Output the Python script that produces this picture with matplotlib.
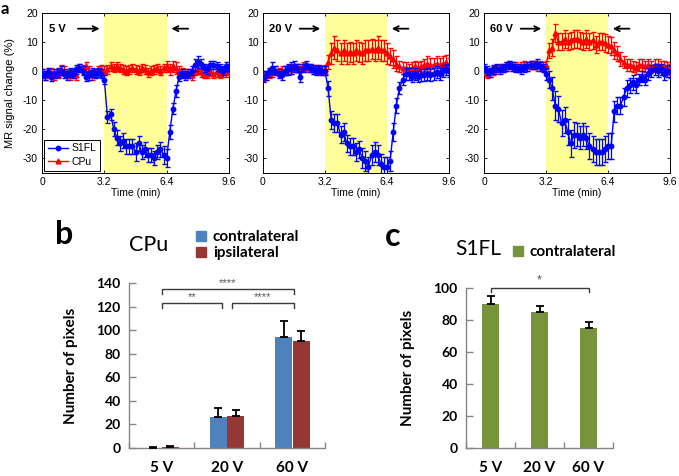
import numpy as np
import matplotlib
matplotlib.use("Agg")
import matplotlib.pyplot as plt
from matplotlib.patches import Patch
from matplotlib.lines import Line2D

# ---------------- data: time courses (panel a) ----------------
TR_MIN = 0.16
N_PTS = 61
time_min = np.arange(N_PTS) * TR_MIN

s1fl_5v = [-1, -1.5, -0.5, -2, -1, -0.5, 0, -1, -1.5, -0.5, -1, 0.5, 1, 0, -2, -1.5, -0.5, -1, -0.5, -1,
           -3, -16, -15, -20, -23, -25, -24, -26, -26, -26, -28, -25, -28, -27, -29, -29, -30, -28, -27, -29,
           -30, -21, -13, -7, -2, -1, -1.5, -1, 0, 2, 3, 2.5, 1, 0.5, 2, 2, 1.5, 1, 0, 1.5, 1]
s1fl_5v_err = [1.5, 1.5, 1.5, 1.5, 1.5, 1.5, 1.5, 1.5, 1.5, 1.5, 1.5, 1.5, 1.5, 1.5, 1.5, 1.5, 1.5, 1.5, 1.5, 1.5,
               1.5, 2, 2, 2.5, 2.5, 2.5, 2.5, 2.5, 2.5, 2.5, 3, 2.5, 2.5, 2.5, 2.5, 2.5, 2.5, 2.5, 2.5, 3,
               3, 2.5, 2, 2, 1.5, 1.5, 1.5, 1.5, 1.5, 2, 2, 1.5, 1.5, 1.5, 1.5, 1.5, 1.5, 1.5, 1.5, 1.5, 1.5]
cpu_5v = [-1, -1.5, -1, -0.5, -1.5, -1, 0.5, 0, -1, -1.5, -1, -1.5, 1, 0.5, 1.5, 0, -1.5, -1, 0, 0.5,
          0, 0.5, 1.5, 1, 1.5, 1, 0.5, 0, 0.5, 1, 0.5, 0, 1, 0.5, -0.5, 0, 0.5, 1, 0, 1,
          1.5, 0.5, 1.5, 1, 0, -0.5, -1, -1, -1.5, 0, 0.5, -0.5, -1, -1, 0, -1, -0.5, -1, -0.5, -0.5, 0]
cpu_5v_err = [1.5, 1.5, 1.5, 1.5, 1.5, 1.5, 1.5, 1.5, 1.5, 1.5, 1.5, 1.5, 1.5, 1.5, 1.5, 1.5, 1.5, 1.5, 1.5, 1.5,
              1.5, 1.5, 1.5, 1.5, 1.5, 1.5, 1.5, 1.5, 1.5, 1.5, 1.5, 1.5, 1.5, 1.5, 1.5, 1.5, 1.5, 1.5, 1.5, 1.5,
              2, 2, 2, 2, 1.5, 1.5, 1.5, 1.5, 1.5, 1.5, 1.5, 1.5, 1.5, 1.5, 1.5, 1.5, 1.5, 1.5, 1.5, 1.5, 1.5]

s1fl_20v = [-2, -1.5, -0.5, 1, 0, -1, -1.5, 0, 0.5, 1, 1.5, 1, -2, 1, 2, 1, 0.5, 0, 0.5, 0,
            0, -6, -17, -18, -18, -22, -21, -25, -26, -26, -28, -27, -30, -31, -33, -29, -28, -29, -32, -33,
            -33, -31, -21, -12, -6, -3, -1, -1, -2, -1, -2, -1.5, -1.5, -1, -1.5, -1, -0.5, -1, 0, 0.5, 0]
s1fl_20v_err = [2, 1.5, 1.5, 2, 1.5, 1.5, 1.5, 1.5, 2, 2, 2, 1.5, 2, 1.5, 1.5, 1.5, 1.5, 1.5, 1.5, 1.5,
                1.5, 2.5, 3, 3, 3, 3, 3, 3, 3, 3, 3, 3, 3.5, 3.5, 3.5, 3.5, 3.5, 3.5, 3.5, 3.5,
                3.5, 3.5, 3, 2.5, 2, 2, 2, 2, 2, 2, 2, 2, 2, 2, 2, 2, 2, 2, 2, 2, 2]
cpu_20v = [-2, -1.5, -1, -0.5, 0, -0.5, 0, 0, 0.5, 0.5, 1, 1, 1, 1.5, 1, 1, 0.5, 0.5, 0, 0,
           0.5, 3, 6, 8, 7, 6, 7, 6, 6.5, 6, 7, 6.5, 6, 7, 7, 7.5, 7, 8, 7, 7,
           6, 5, 4, 2.5, 1.5, 1, 1, 0.5, 1, 1.5, 1, 1.5, 2, 2.5, 2, 2, 2.5, 2, 2.5, 3, 2]
cpu_20v_err = [1.5, 1.5, 1.5, 1.5, 1.5, 1.5, 1.5, 1.5, 1.5, 1.5, 1.5, 1.5, 1.5, 1.5, 1.5, 1.5, 1.5, 1.5, 1.5, 1.5,
               1.5, 2.5, 3.5, 4, 3.5, 3.5, 3.5, 3.5, 3.5, 3.5, 3.5, 3.5, 3.5, 3.5, 3.5, 3.5, 3.5, 4, 3.5, 3.5,
               3.5, 3, 3, 2.5, 2, 2, 2, 2, 2, 2, 2, 2, 2, 2.5, 2.5, 2.5, 2.5, 2.5, 2.5, 2.5, 2.5]

s1fl_60v = [1, 0, -0.5, 0.5, 1, 0.5, 1, 1.5, 2, 1.5, 1, 1, 0.5, 1, 1.5, 2, 2, 2.5, 1.5, 1,
            -1, -3, -6, -12, -13, -18, -17, -21, -25, -22, -22, -23, -22, -23, -26, -27, -28, -28, -28, -27,
            -26, -26, -14, -12, -12, -9, -6, -5, -4, -5, -3, -2, -3, -1, 0, 0.5, 0, 0.5, -1, 0, -0.5]
s1fl_60v_err = [1.5, 1.5, 1.5, 1.5, 1.5, 1.5, 1.5, 1.5, 1.5, 1.5, 1.5, 1.5, 1.5, 1.5, 1.5, 1.5, 1.5, 1.5, 1.5, 1.5,
                2, 3, 4, 5, 4.5, 4.5, 4.5, 4.5, 4.5, 4.5, 4, 4, 4, 4, 4.5, 4.5, 4.5, 4.5, 4.5, 4.5,
                4.5, 4.5, 3.5, 3, 3, 3, 3, 2.5, 2.5, 2.5, 2, 2, 2, 2, 2, 2, 2, 2, 2, 2, 2]
cpu_60v = [0, -1, -0.5, 0, 0.5, 1, 1, 1.5, 2, 1.5, 1.5, 1, 1.5, 2, 1.5, 2, 2, 1.5, 2, 1.5,
           2, 7, 8, 13, 10, 10, 11, 10, 10.5, 11, 11, 10.5, 10, 11, 10, 10.5, 9, 10, 10, 9.5,
           9, 8.5, 7, 6, 4, 3, 2, 2, 1.5, 1, 2, 2, 1.5, 2, 1.5, 2, 2, 1.5, 1.5, 1, 0.5]
cpu_60v_err = [1.5, 1.5, 1.5, 1.5, 1.5, 1.5, 1.5, 1.5, 1.5, 1.5, 1.5, 1.5, 1.5, 1.5, 1.5, 1.5, 1.5, 1.5, 1.5, 1.5,
               1.5, 2.5, 3, 3, 3, 3, 3, 3, 3, 3, 3, 3, 3, 3, 3, 3, 3, 3, 3, 3,
               3, 3, 3, 2.5, 2.5, 2, 2, 2, 2, 2, 2, 2, 2, 2, 2, 2, 2, 2, 2, 2, 2]

panel_labels = ["5 V", "20 V", "60 V"]
stim_on, stim_off = 3.2, 6.4
time_ticks = [0, 3.2, 6.4, 9.6]
signal_ticks = [-30, -20, -10, 0, 10, 20]

# ---------------- data: bar charts (panels b, c) ----------------
voltages = ["5 V", "20 V", "60 V"]
cpu_contra = [0.3, 26, 94]
cpu_contra_err = [0.3, 8, 14]
cpu_ipsi = [0.8, 27, 91]
cpu_ipsi_err = [0.5, 5, 8]
s1fl_contra = [90, 85, 75]
s1fl_contra_err = [5, 4, 4]

# ---------------- figure ----------------
W, H = 679, 476
fig = plt.figure(figsize=(W / 100, H / 100), dpi=100)

def fbox(x0, y0, x1, y1):
    return [x0 / W, 1 - y1 / H, (x1 - x0) / W, (y1 - y0) / H]

ts_font = ["Liberation Sans", "DejaVu Sans"]
bar_font = ["Lato", "DejaVu Sans"]

ts_sets = [
    (s1fl_5v, s1fl_5v_err, cpu_5v, cpu_5v_err),
    (s1fl_20v, s1fl_20v_err, cpu_20v, cpu_20v_err),
    (s1fl_60v, s1fl_60v_err, cpu_60v, cpu_60v_err),
]
lefts = [(42, 229), (263, 449), (484, 670)]

for i, ((x0, x1), (s, se, c, ce)) in enumerate(zip(lefts, ts_sets)):
    ax = fig.add_axes(fbox(x0, 12.7, x1, 172.5))
    ax.axvspan(stim_on, stim_off, color="#FFFF99", zorder=0, lw=0)
    ax.errorbar(time_min, c, yerr=ce, color="#FF0000", marker="^", ms=3.5,
                lw=1.0, elinewidth=0.9, capsize=1.8, zorder=3)
    ax.errorbar(time_min, s, yerr=se, color="#0000FF", marker="o", ms=3.2,
                lw=1.0, elinewidth=0.9, capsize=1.8, zorder=4)
    ax.set_xlim(0, 9.6)
    ax.set_ylim(-35, 20)
    ax.set_xticks(time_ticks)
    ax.set_xticklabels(["0", "3.2", "6.4", "9.6"])
    ax.set_yticks(signal_ticks)
    ax.set_yticklabels([str(v) for v in signal_ticks])
    ax.tick_params(direction="in", length=2.5, width=0.6, top=True, right=True,
                   labelsize=7.5, pad=3)
    for lab in ax.get_xticklabels() + ax.get_yticklabels():
        lab.set_family(ts_font)
    for sp in ax.spines.values():
        sp.set_linewidth(0.7)
    ax.set_xlabel("Time (min)", fontsize=7.5, family=ts_font, labelpad=1)
    # voltage label and arrows
    tx = 0.35 if i == 0 else 0.3
    ax.text(tx, 14.5, panel_labels[i], fontsize=8, fontweight="bold",
            family=ts_font, ha="left", va="center", zorder=5)
    arrow_start = 1.7 if i == 0 else 1.75
    ax.annotate("", xy=(3.1, 14.5), xytext=(arrow_start, 14.5),
                arrowprops=dict(arrowstyle="->", lw=1.3, color="black",
                                mutation_scale=9), zorder=5)
    ax.annotate("", xy=(6.5, 14.5), xytext=(7.65, 14.5),
                arrowprops=dict(arrowstyle="->", lw=1.3, color="black",
                                mutation_scale=9), zorder=5)
    if i == 0:
        ax.set_ylabel("MR signal change (%)", fontsize=8, family=ts_font)
        ax.yaxis.set_label_coords(-0.145, 0.5)
        handles = [Line2D([], [], color="#0000FF", marker="o", ms=3.2, lw=1.0),
                   Line2D([], [], color="#FF0000", marker="^", ms=3.5, lw=1.0)]
        leg = ax.legend(handles, ["S1FL", "CPu"], loc="lower left",
                        bbox_to_anchor=(0.005, 0.005), fancybox=False,
                        framealpha=1, edgecolor="black", handlelength=2.0,
                        handletextpad=0.3, borderpad=0.35, labelspacing=0.35,
                        borderaxespad=0.1, prop={"family": ts_font, "size": 7.5})
        leg.get_frame().set_linewidth(0.7)

fig.text(1 / W, 1 - 1 / H, "a", fontsize=12, fontweight="bold", family=bar_font,
         ha="left", va="top")

# ---------------- bar chart helper ----------------
axis_gray = "#868686"

def style_bar_axes(ax, ymax, ystep):
    ax.set_xlim(-0.5, 2.5)
    ax.set_ylim(0, ymax)
    for sp in ["top", "right"]:
        ax.spines[sp].set_visible(False)
    for sp in ["left", "bottom"]:
        ax.spines[sp].set_color(axis_gray)
        ax.spines[sp].set_linewidth(1.0)
    ax.set_yticks(np.arange(0, ymax + 1, ystep))
    ax.set_xticks([-0.5, 0.5, 1.5, 2.5])
    ax.set_xticklabels([])
    ax.set_xticks([0, 1, 2], minor=True)
    ax.set_xticklabels(voltages, minor=True)
    ax.tick_params(axis="x", which="major", direction="in", length=4,
                   color=axis_gray, width=1.0)
    ax.tick_params(axis="x", which="minor", length=0, pad=9.5, labelsize=11)
    ax.tick_params(axis="y", direction="in", length=5, color=axis_gray,
                   width=1.0, labelsize=10, pad=6)
    for lab in ax.get_yticklabels() + ax.get_xticklabels(minor=True):
        lab.set_family(bar_font)
        lab.set_fontweight("bold")
    ax.set_ylabel("Number of pixels", fontsize=11, fontweight="bold",
                  family=bar_font)

def bracket(ax, xa, xb, y, drop, text, tsize=8, ty=None):
    ax.plot([xa, xa, xb, xb], [y - drop, y, y, y - drop], color="#3a3a3a",
            lw=1.0, clip_on=False, solid_joinstyle="miter")
    ax.text((xa + xb) / 2, y + (ty if ty is not None else 0.5), text,
            ha="center", va="bottom", fontsize=tsize, color="#555555",
            family=ts_font, clip_on=False)

# ---------------- panel b ----------------
axb = fig.add_axes(fbox(129, 283, 325, 448))
xpos = np.arange(len(voltages))
bw = 0.26
axb.bar(xpos - 0.135, cpu_contra, width=bw, color="#4F81BD", zorder=2)
axb.bar(xpos + 0.135, cpu_ipsi, width=bw, color="#953735", zorder=2)
axb.errorbar(xpos - 0.135, cpu_contra, yerr=[[0] * 3, cpu_contra_err],
             fmt="none", ecolor="black", elinewidth=1.3, capsize=3, capthick=1.3, zorder=3)
axb.errorbar(xpos + 0.135, cpu_ipsi, yerr=[[0] * 3, cpu_ipsi_err],
             fmt="none", ecolor="black", elinewidth=1.3, capsize=3, capthick=1.3, zorder=3)
style_bar_axes(axb, 140, 20)
axb.yaxis.set_label_coords(-0.26, 0.5)
bracket(axb, 0.0, 2.02, 135, 4, "****", ty=0.8)
bracket(axb, 0.0, 0.93, 123, 4, "**", ty=0.8)
bracket(axb, 1.08, 2.02, 123, 4, "****", ty=0.8)

fig.text(55 / W, 1 - 220 / H, "b", fontsize=23, fontweight="bold",
         family=bar_font, ha="left", va="top")
fig.text(129 / W, 1 - 245 / H, "CPu", fontsize=15.5, family=bar_font,
         ha="left", va="center")
fig.legend(handles=[Patch(color="#4F81BD"), Patch(color="#953735")],
           labels=["contralateral", "ipsilateral"], loc="upper left",
           bbox_to_anchor=(190 / W, 1 - 224 / H), frameon=False,
           handlelength=0.65, handleheight=0.65, handletextpad=0.45,
           labelspacing=0.15, borderaxespad=0,
           prop={"family": bar_font, "weight": "bold", "size": 11})

# ---------------- panel c ----------------
axc = fig.add_axes(fbox(466, 288, 613, 448))
axc.bar(xpos, s1fl_contra, width=0.36, color="#77933C", zorder=2)
axc.errorbar(xpos, s1fl_contra, yerr=[[0] * 3, s1fl_contra_err],
             fmt="none", ecolor="black", elinewidth=1.3, capsize=3, capthick=1.3, zorder=3)
style_bar_axes(axc, 100, 20)
axc.yaxis.set_label_coords(-0.35, 0.5)
bracket(axc, 0.0, 2.0, 100, 2.5, "*", tsize=9, ty=0.8)

fig.text(385 / W, 1 - 222 / H, "c", fontsize=23, fontweight="bold",
         family=bar_font, ha="left", va="top")
fig.text(455 / W, 1 - 249 / H, "S1FL", fontsize=15, family=bar_font,
         ha="left", va="center")
fig.legend(handles=[Patch(color="#77933C")], labels=["contralateral"],
           loc="upper left", bbox_to_anchor=(507 / W, 1 - 239 / H), frameon=False,
           handlelength=0.65, handleheight=0.65, handletextpad=0.45,
           borderaxespad=0,
           prop={"family": bar_font, "weight": "bold", "size": 11})

fig.savefig("out.png", dpi=100)
